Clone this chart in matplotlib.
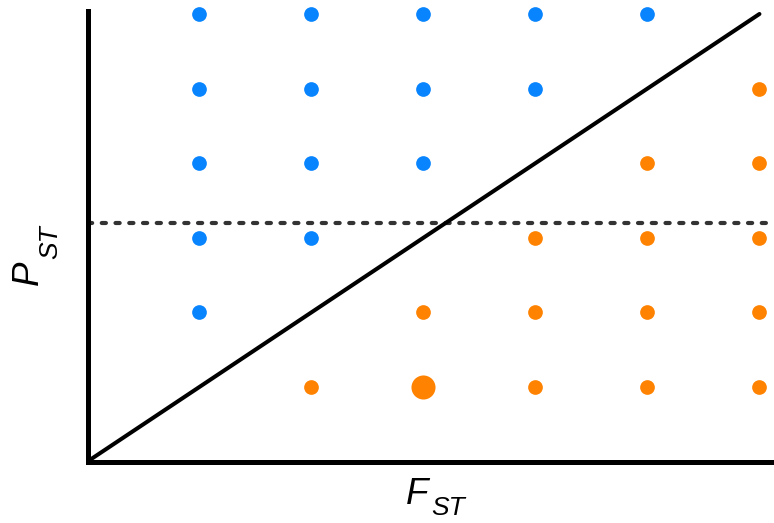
import matplotlib
matplotlib.use("Agg")
import matplotlib.pyplot as plt

plt.rcParams["font.family"] = ["Liberation Sans", "DejaVu Sans"]

# grid of (F_ST, P_ST) combinations; the diagonal cells are left out
blue_x = [1, 2, 3, 4, 5, 1, 2, 3, 4, 1, 2, 3, 1, 2, 1]
blue_y = [6, 6, 6, 6, 6, 5, 5, 5, 5, 4, 4, 4, 3, 3, 2]
orange_x = [6, 5, 6, 4, 5, 6, 3, 4, 5, 6, 2, 4, 5, 6]
orange_y = [5, 4, 4, 3, 3, 3, 2, 2, 2, 2, 1, 1, 1, 1]
big_x = [3]
big_y = [1]
threshold = 3.2
line_end = 6

BLUE = "#0984ff"
ORANGE = "#ff8200"
W, H = 774, 523


def px(x, y):
    # pixel position (from top-left) -> figure fraction
    return x / W, 1 - y / H


fig = plt.figure(figsize=(W / 100, H / 100), dpi=100)
ax = fig.add_axes([87.5 / W, 61.5 / H, 686.5 / W, 450.5 / H])
ax.set_xlim(0, 6.13)
ax.set_ylim(0, 6.04)

ax.axhline(threshold, color="#333333", lw=3.0, ls=(0, (1.0, 2.3)),
           dash_capstyle="round", zorder=1)
ax.plot([0, line_end], [0, line_end], color="black", lw=2.9,
        solid_capstyle="round", zorder=2)

ax.scatter(blue_x, blue_y, s=112, color=BLUE, lw=0, clip_on=False, zorder=3)
ax.scatter(orange_x, orange_y, s=112, color=ORANGE, lw=0, clip_on=False, zorder=3)
ax.scatter(big_x, big_y, s=300, color=ORANGE, lw=0, clip_on=False, zorder=3)

for side in ("top", "right"):
    ax.spines[side].set_visible(False)
for side in ("left", "bottom"):
    ax.spines[side].set_linewidth(3.6)
ax.set_xticks([])
ax.set_yticks([])

# axis labels: italic letter with a lowered, smaller "ST"
big, small = 26.5, 19
fig.text(*px(406, 504), "F", fontsize=big, style="italic",
         ha="left", va="baseline")
fig.text(*px(431, 515), "ST", fontsize=small, style="italic",
         ha="left", va="baseline")
fig.text(*px(38, 285), "P", fontsize=big, style="italic", rotation=90,
         rotation_mode="anchor", ha="left", va="baseline")
fig.text(*px(57, 259), "ST", fontsize=small, style="italic", rotation=90,
         rotation_mode="anchor", ha="left", va="baseline")

fig.savefig("out.png", dpi=100)
